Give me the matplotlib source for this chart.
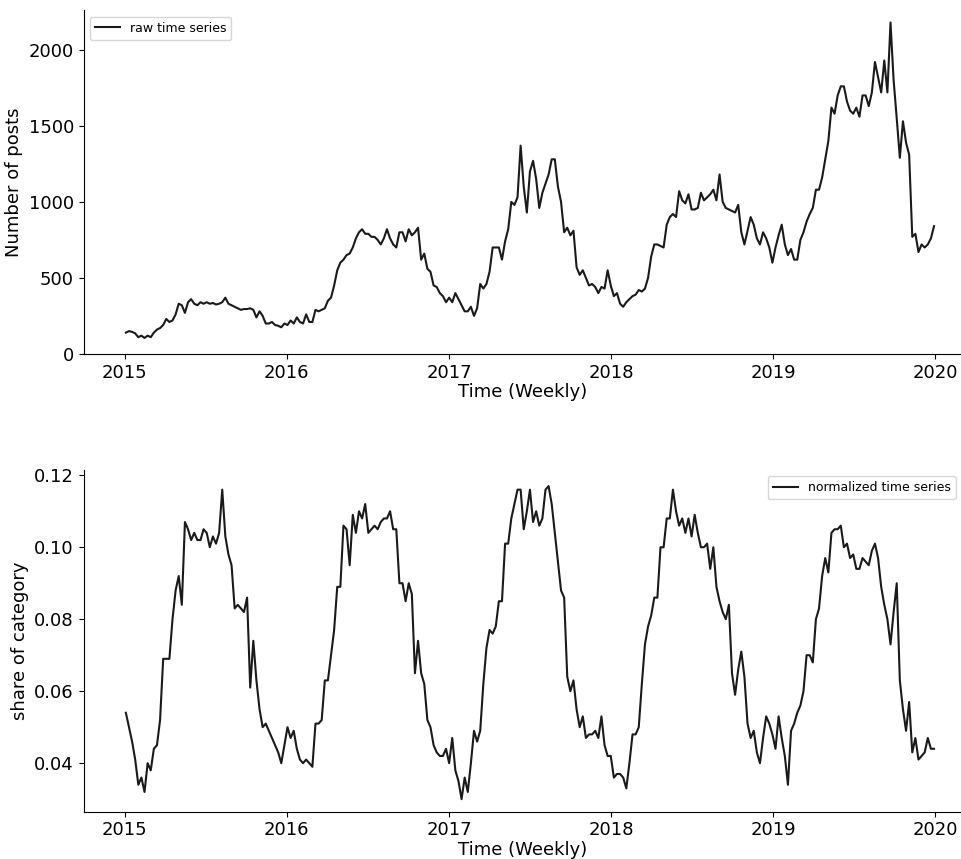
import matplotlib
matplotlib.use('Agg')
import matplotlib.pyplot as plt
from matplotlib.ticker import MultipleLocator
import pandas as pd

dates = pd.date_range('2015-01-04', periods=261, freq='W')

raw_2015 = [140,150,145,135,110,120,105,120,110,140,
            160,170,190,230,210,220,260,330,320,270,
            340,360,330,320,340,330,340,330,335,325,
            330,340,370,330,320,310,300,290,295,295,
            300,290,240,280,250,200,200,210,190,185,
            175,200]
raw_2016 = [190,220,200,240,210,200,260,210,210,290,
            280,290,300,350,370,450,550,600,620,650,
            660,700,760,800,820,790,790,770,770,750,
            720,760,820,760,720,700,800,800,740,820,
            780,800,830,620,660,560,540,450,440,400,
            380,340]
raw_2017 = [370,340,400,360,320,280,280,310,250,300,
            460,430,460,540,700,700,700,620,740,820,
            1000,980,1030,1370,1100,930,1200,1270,1150,960,
            1060,1120,1180,1280,1280,1100,1000,800,830,780,
            810,570,520,550,500,450,460,440,400,440,
            430,550]
raw_2018 = [450,380,400,330,310,340,360,380,390,420,
            410,430,500,640,720,720,710,700,850,900,
            920,900,1070,1010,990,1050,950,950,960,1060,
            1010,1030,1050,1080,1010,1180,1000,960,950,940,
            930,980,800,720,810,900,850,760,720,800,
            760,700]
raw_2019 = [600,700,780,850,720,650,690,620,620,750,
            800,870,920,960,1080,1080,1160,1280,1400,1620,
            1580,1700,1760,1760,1660,1600,1580,1620,1560,1700,
            1700,1630,1720,1920,1820,1720,1930,1720,2180,1800,
            1550,1290,1530,1390,1310,770,790,670,720,700,
            720,760,840]

norm_2015 = [0.054,0.050,0.046,0.041,0.034,0.036,0.032,0.040,0.038,0.044,
             0.045,0.052,0.069,0.069,0.069,0.080,0.088,0.092,0.084,0.107,
             0.105,0.102,0.104,0.102,0.102,0.105,0.104,0.100,0.103,0.101,
             0.104,0.116,0.103,0.098,0.095,0.083,0.084,0.083,0.082,0.086,
             0.061,0.074,0.063,0.055,0.050,0.051,0.049,0.047,0.045,0.043,
             0.040,0.045]
norm_2016 = [0.050,0.047,0.049,0.044,0.041,0.040,0.041,0.040,0.039,0.051,
             0.051,0.052,0.063,0.063,0.070,0.077,0.089,0.089,0.106,0.105,
             0.095,0.109,0.104,0.110,0.108,0.112,0.104,0.105,0.106,0.105,
             0.107,0.108,0.108,0.110,0.105,0.105,0.090,0.090,0.085,0.090,
             0.087,0.065,0.074,0.065,0.062,0.052,0.050,0.045,0.043,0.042,
             0.042,0.044]
norm_2017 = [0.040,0.047,0.038,0.035,0.030,0.036,0.032,0.040,0.049,0.046,
             0.049,0.062,0.072,0.077,0.076,0.078,0.085,0.085,0.101,0.101,
             0.108,0.112,0.116,0.116,0.105,0.110,0.116,0.107,0.110,0.106,
             0.108,0.116,0.117,0.112,0.104,0.096,0.088,0.086,0.064,0.060,
             0.063,0.055,0.050,0.053,0.047,0.048,0.048,0.049,0.047,0.053,
             0.045,0.042]
norm_2018 = [0.042,0.036,0.037,0.037,0.036,0.033,0.040,0.048,0.048,0.050,
             0.062,0.073,0.078,0.081,0.086,0.086,0.100,0.100,0.108,0.108,
             0.116,0.110,0.106,0.108,0.104,0.108,0.103,0.109,0.104,0.100,
             0.100,0.101,0.094,0.100,0.089,0.085,0.082,0.080,0.084,0.065,
             0.059,0.066,0.071,0.064,0.051,0.047,0.049,0.043,0.040,0.047,
             0.053,0.051]
norm_2019 = [0.048,0.044,0.053,0.047,0.042,0.034,0.049,0.051,0.054,0.056,
             0.060,0.070,0.070,0.068,0.080,0.083,0.092,0.097,0.093,0.104,
             0.105,0.105,0.106,0.100,0.101,0.097,0.098,0.094,0.094,0.097,
             0.096,0.095,0.099,0.101,0.097,0.089,0.084,0.080,0.073,0.082,
             0.090,0.063,0.055,0.049,0.057,0.043,0.047,0.041,0.042,0.043,
             0.047,0.044,0.044]

raw = raw_2015 + raw_2016 + raw_2017 + raw_2018 + raw_2019
norm = norm_2015 + norm_2016 + norm_2017 + norm_2018 + norm_2019

fig = plt.figure(figsize=(9.62, 8.59), dpi=100)
ax1 = fig.add_axes([0.087, 0.588, 0.913, 0.40])
ax2 = fig.add_axes([0.087, 0.055, 0.913, 0.398])

ax1.plot(dates, raw, color='#1a1a1a', lw=1.5, label='raw time series')
ax1.set_ylim(0, 2260)
ax1.yaxis.set_major_locator(MultipleLocator(500))
ax1.set_ylabel('Number of posts', fontsize=13)
ax1.set_xlabel('Time (Weekly)', fontsize=13, labelpad=1)
ax1.legend(loc='upper left', fontsize=9)

ax2.plot(dates, norm, color='#1a1a1a', lw=1.5, label='normalized time series')
ax2.set_ylim(0.0265, 0.1215)
ax2.set_ylabel('share of category', fontsize=13)
ax2.set_xlabel('Time (Weekly)', fontsize=13, labelpad=1)
ax2.legend(loc='upper right', fontsize=9)

for ax in (ax1, ax2):
    ax.set_xlim(pd.Timestamp('2014-10-01'), pd.Timestamp('2020-03-01'))
    ax.spines['top'].set_visible(False)
    ax.spines['right'].set_visible(False)
    ax.tick_params(labelsize=13)

fig.savefig('out.png', dpi=100)
